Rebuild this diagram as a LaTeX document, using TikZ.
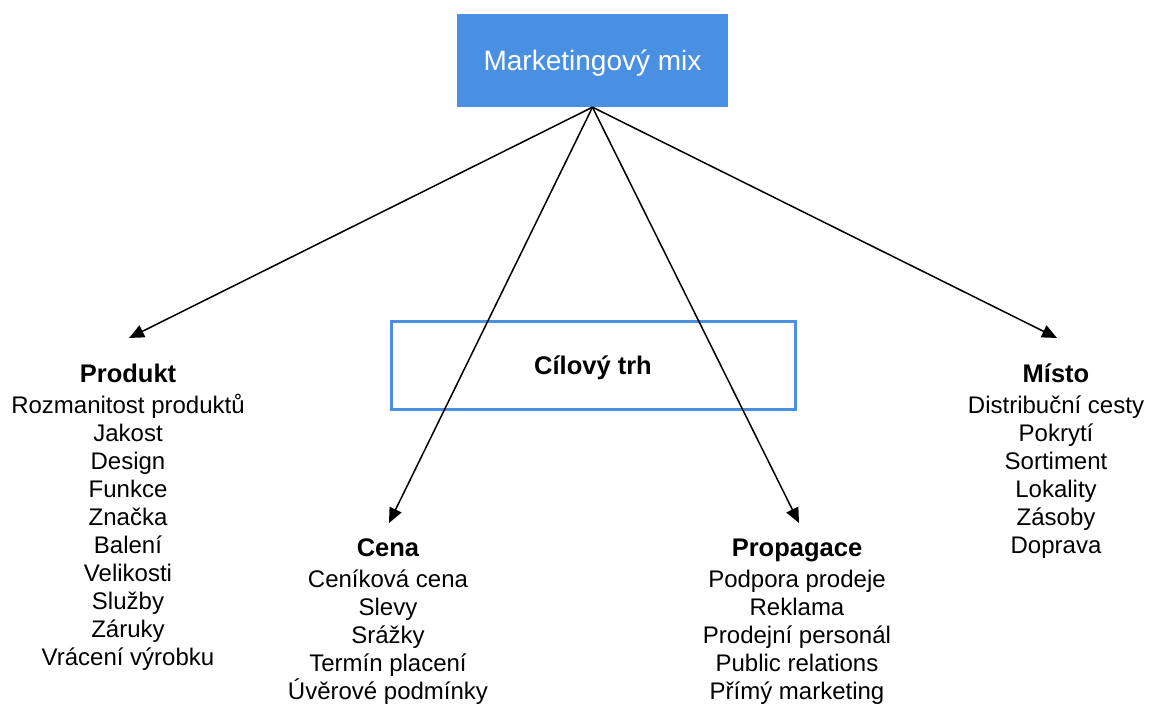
\documentclass[tikz,border=0pt]{standalone}
\usepackage{fontspec}
\setmainfont{Liberation Sans}
\usetikzlibrary{arrows.meta}
\definecolor{mixblue}{RGB}{74,144,226}
\tikzset{
  mixbox/.style={fill=mixblue, draw=none, minimum width=271pt, minimum height=93pt,
    inner sep=0pt, text=white, font=\fontsize{28}{32}\selectfont},
  targetbox/.style={draw=mixblue, line width=3pt, fill=none, minimum width=404pt,
    minimum height=88pt, inner sep=0pt, font=\bfseries\fontsize{25.5}{30}\selectfont},
  grouptitle/.style={anchor=base, inner sep=0pt, font=\bfseries\fontsize{25.5}{30}\selectfont},
  item/.style={anchor=base, inner sep=0pt, font=\fontsize{24}{28}\selectfont},
  link/.style={line width=1.5pt, -{Triangle[length=15pt,width=13pt]}},
}
\begin{document}
\begin{tikzpicture}[x=1pt, y=-1pt]
  \path[use as bounding box] (0,0) rectangle (1149,704);

  % central boxes
  \node[mixbox] (mix) at (592.5,60.5) {};
  \node[anchor=base, inner sep=0pt, text=white, font=\fontsize{28}{32}\selectfont]
    (mixlabel) at (mix.center |- 0,70) {Marketingový mix};
  \node[targetbox] (target) at (593,365) {};
  \node[anchor=base, inner sep=0pt, font=\bfseries\fontsize{25.5}{30}\selectfont]
    (targetlabel) at (593,374) {Cílový trh};

  % arrow end points above each group
  \coordinate (tipProdukt) at (129,338);
  \coordinate (tipCena) at (389,523);
  \coordinate (tipPropagace) at (799,523);
  \coordinate (tipMisto) at (1057,338);

  \draw[link] (mix.south) -- (tipProdukt);
  \draw[link] (mix.south) -- (tipCena);
  \draw[link] (mix.south) -- (tipPropagace);
  \draw[link] (mix.south) -- (tipMisto);

  % Produkt
  \node[grouptitle] (produkt) at (128,382) {Produkt};
  \foreach \t [count=\i] in {Rozmanitost produktů, Jakost, Design, Funkce, Značka,
      Balení, Velikosti, Služby, Záruky, Vrácení výrobku}
    \node[item] (produkt\i) at (128,{413+28*(\i-1)}) {\t};

  % Cena
  \node[grouptitle] (cena) at (388,556) {Cena};
  \foreach \t [count=\i] in {Ceníková cena, Slevy, Srážky, Termín placení, Úvěrové podmínky}
    \node[item] (cena\i) at (388,{587+28*(\i-1)}) {\t};

  % Propagace
  \node[grouptitle] (propagace) at (797,556) {Propagace};
  \foreach \t [count=\i] in {Podpora prodeje, Reklama, Prodejní personál, Public relations, Přímý marketing}
    \node[item] (propagace\i) at (797,{587+28*(\i-1)}) {\t};

  % Místo
  \node[grouptitle] (misto) at (1056,382) {Místo};
  \foreach \t [count=\i] in {Distribuční cesty, Pokrytí, Sortiment, Lokality, Zásoby, Doprava}
    \node[item] (misto\i) at (1056,{413+28*(\i-1)}) {\t};
\end{tikzpicture}
\end{document}
